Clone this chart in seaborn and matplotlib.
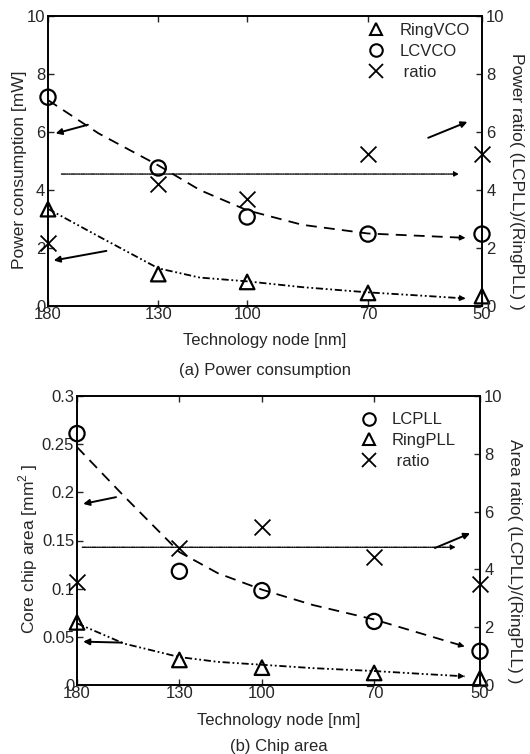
import matplotlib
matplotlib.use("Agg")
import matplotlib.pyplot as plt
from matplotlib.lines import Line2D
from matplotlib.ticker import NullLocator, FixedLocator
import seaborn as sns

# ---------------- data ----------------
nodes = [180, 130, 100, 70, 50]
node_labels = ["180", "130", "100", "70", "50"]

# (a) power consumption
ringvco_power = [3.34, 1.1, 0.83, 0.45, 0.34]
lcvco_power = [7.2, 4.76, 3.07, 2.48, 2.48]
power_ratio = [2.17, 4.2, 3.7, 5.25, 5.25]

# fitted trend curves (end with an arrow just before the 50 nm marker)
fit_nodes = [180, 155, 130, 115, 100, 85, 70, 60, 52.5]
lcvco_fit = [7.1, 5.95, 4.85, 4.0, 3.3, 2.8, 2.5, 2.42, 2.35]
ringvco_fit = [3.35, 2.4, 1.3, 0.98, 0.85, 0.65, 0.47, 0.36, 0.26]

# (b) chip area
lcpll_area = [0.261, 0.118, 0.098, 0.066, 0.035]
ringpll_area = [0.065, 0.026, 0.018, 0.0125, 0.007]
area_ratio = [3.56, 4.74, 5.47, 4.43, 3.5]

lcpll_fit = [0.247, 0.196, 0.138, 0.116, 0.099, 0.083, 0.068, 0.053, 0.040]
ringpll_fit = [0.064, 0.043, 0.029, 0.024, 0.021, 0.0175, 0.0145, 0.0115, 0.009]

power_hline = 4.55
area_hline = 0.143

sns.set_style("white")
plt.rcParams["font.family"] = ["Liberation Sans", "DejaVu Sans"]
plt.rcParams["mathtext.fontset"] = "custom"
plt.rcParams["mathtext.rm"] = "Liberation Sans"

fig = plt.figure(figsize=(5.3, 7.54), dpi=100)
axA = fig.add_axes([48 / 530, 1 - 306 / 754, 434 / 530, 290 / 754])
axB = fig.add_axes([77 / 530, 1 - 685 / 754, 403 / 530, 289 / 754])

FS = 12
DASH = (0, (6, 4))
DASHDOT = (0, (4, 1.5, 1, 1.5, 1, 1.5))
HDOT = (0, (3, 0.8, 0.8, 0.8, 0.8, 0.8))


def arrow(ax, tail, head, lw=1.4, ms=9):
    ax.annotate("", xy=head, xytext=tail,
                arrowprops=dict(arrowstyle="-|>", color="black", lw=lw,
                                mutation_scale=ms, shrinkA=0, shrinkB=0),
                annotation_clip=False)


def curve(ax, x, y, ls):
    sns.lineplot(x=x, y=y, ax=ax, color="black", lw=1.3, sort=False,
                 linestyle=ls, estimator=None)
    # small arrow head at the end of the curve
    t = 0.15
    tail = (x[-1] * (1 - t) + x[-2] * t, y[-1] * (1 - t) + y[-2] * t)
    arrow(ax, tail, (x[-1], y[-1]), lw=1.0, ms=8)


def markers(ax, x, y, m, s):
    if m == "x":
        sns.scatterplot(x=x, y=y, ax=ax, marker="x", s=s, color="black",
                        linewidth=1.3, zorder=5, clip_on=False)
    else:
        sns.scatterplot(x=x, y=y, ax=ax, marker=m, s=s, facecolor="none",
                        edgecolor="black", linewidth=1.6, zorder=5, clip_on=False)


def style_axes(ax, ax2, ymax, yticks, yticklabels):
    ax.set_xscale("log")
    ax.set_xlim(180, 50)
    ax.xaxis.set_major_locator(FixedLocator(nodes))
    ax.xaxis.set_minor_locator(NullLocator())
    ax.set_xticklabels(node_labels)
    ax.set_ylim(0, ymax)
    ax.set_yticks(yticks)
    ax.set_yticklabels(yticklabels)
    ax.tick_params(axis="x", direction="in", top=True, bottom=True, length=4,
                   labelsize=FS, pad=1, width=1)
    ax.tick_params(axis="y", direction="in", left=True, right=False, length=4,
                   labelsize=FS, pad=2, width=1)
    ax2.set_ylim(0, 10)
    ax2.set_yticks([0, 2, 4, 6, 8, 10])
    ax2.tick_params(axis="y", direction="in", right=True, length=4,
                    labelsize=FS, pad=3, width=1)
    for a in (ax, ax2):
        for sp in a.spines.values():
            sp.set_color("black")
            sp.set_linewidth(1.2)
            sp.set_visible(True)


# ---------------- panel (a) ----------------
axA2 = axA.twinx()
curve(axA, fit_nodes, lcvco_fit, DASH)
curve(axA, fit_nodes, ringvco_fit, DASHDOT)
markers(axA, nodes, ringvco_power, "^", 110)
markers(axA, nodes, lcvco_power, "o", 120)
markers(axA2, nodes, power_ratio, "x", 130)
axA.annotate("", xy=(53.5, power_hline), xytext=(173, power_hline),
             arrowprops=dict(arrowstyle="-|>", color="black", lw=1.0,
                             linestyle=HDOT, mutation_scale=7, shrinkA=0, shrinkB=0))
arrow(axA, (160, 6.25), (176, 5.95))
arrow(axA, (151.5, 1.9), (177, 1.57))
arrow(axA2, (58.6, 5.8), (52.2, 6.35))
style_axes(axA, axA2, 10, [0, 2, 4, 6, 8, 10], ["0", "2", "4", "6", "8", "10"])
axA.set_ylabel("Power consumption [mW]", fontsize=12.5, labelpad=0)
axA.yaxis.label.set_y(0.47)
axA.set_xlabel("Technology node [nm]", fontsize=FS, labelpad=8)
axA2.set_ylabel("Power ratio( (LCPLL)/(RingPLL) )", fontsize=12.5, rotation=270,
                labelpad=14)
axA2.yaxis.label.set_y(0.43)
hA = [Line2D([], [], ls="none", marker="^", ms=9, mfc="none", mec="black", mew=1.5),
      Line2D([], [], ls="none", marker="o", ms=9, mfc="none", mec="black", mew=1.5),
      Line2D([], [], ls="none", marker="x", ms=10, color="black", mew=1.3)]
axA.legend(hA, ["RingVCO", "LCVCO", " ratio"], loc="upper left",
           bbox_to_anchor=(0.717, 1.004), frameon=False, fontsize=FS,
           borderpad=0, handlelength=1.0, handletextpad=0.9, labelspacing=0.35)
fig.text((48 + 482) / 2 / 530, 1 - 370 / 754, "(a) Power consumption",
         ha="center", va="center", fontsize=FS)

# ---------------- panel (b) ----------------
axB2 = axB.twinx()
curve(axB, fit_nodes, lcpll_fit, DASH)
curve(axB, fit_nodes, ringpll_fit, DASHDOT)
markers(axB, nodes, lcpll_area, "o", 120)
markers(axB, nodes, ringpll_area, "^", 110)
markers(axB2, nodes, area_ratio, "x", 130)
axB.annotate("", xy=(54, area_hline), xytext=(177, area_hline),
             arrowprops=dict(arrowstyle="-|>", color="black", lw=1.0,
                             linestyle=HDOT, mutation_scale=7, shrinkA=0, shrinkB=0))
arrow(axB, (159, 0.195), (176.5, 0.188))
arrow(axB, (156, 0.044), (176.5, 0.045))
arrow(axB2, (57.7, 4.74), (51.6, 5.25))
style_axes(axB, axB2, 0.3, [0, 0.05, 0.1, 0.15, 0.2, 0.25, 0.3],
           ["0", "0.05", "0.1", "0.15", "0.2", "0.25", "0.3"])
axB.set_ylabel("Core chip area [mm$^2$ ]", fontsize=12.5, labelpad=1)
axB.yaxis.label.set_y(0.47)
axB.set_xlabel("Technology node [nm]", fontsize=FS, labelpad=8)
axB2.set_ylabel("Area ratio( (LCPLL)/(RingPLL) )", fontsize=12.5, rotation=270,
                labelpad=14)
axB2.yaxis.label.set_y(0.43)
hB = [Line2D([], [], ls="none", marker="o", ms=9, mfc="none", mec="black", mew=1.5),
      Line2D([], [], ls="none", marker="^", ms=9, mfc="none", mec="black", mew=1.5),
      Line2D([], [], ls="none", marker="x", ms=10, color="black", mew=1.3)]
axB.legend(hB, ["LCPLL", "RingPLL", " ratio"], loc="upper left",
           bbox_to_anchor=(0.682, 0.972), frameon=False, fontsize=FS,
           borderpad=0, handlelength=1.0, handletextpad=0.9, labelspacing=0.35)
fig.text((77 + 480) / 2 / 530, 1 - 746 / 754, "(b) Chip area",
         ha="center", va="center", fontsize=FS)

fig.savefig("out.png", dpi=100)
